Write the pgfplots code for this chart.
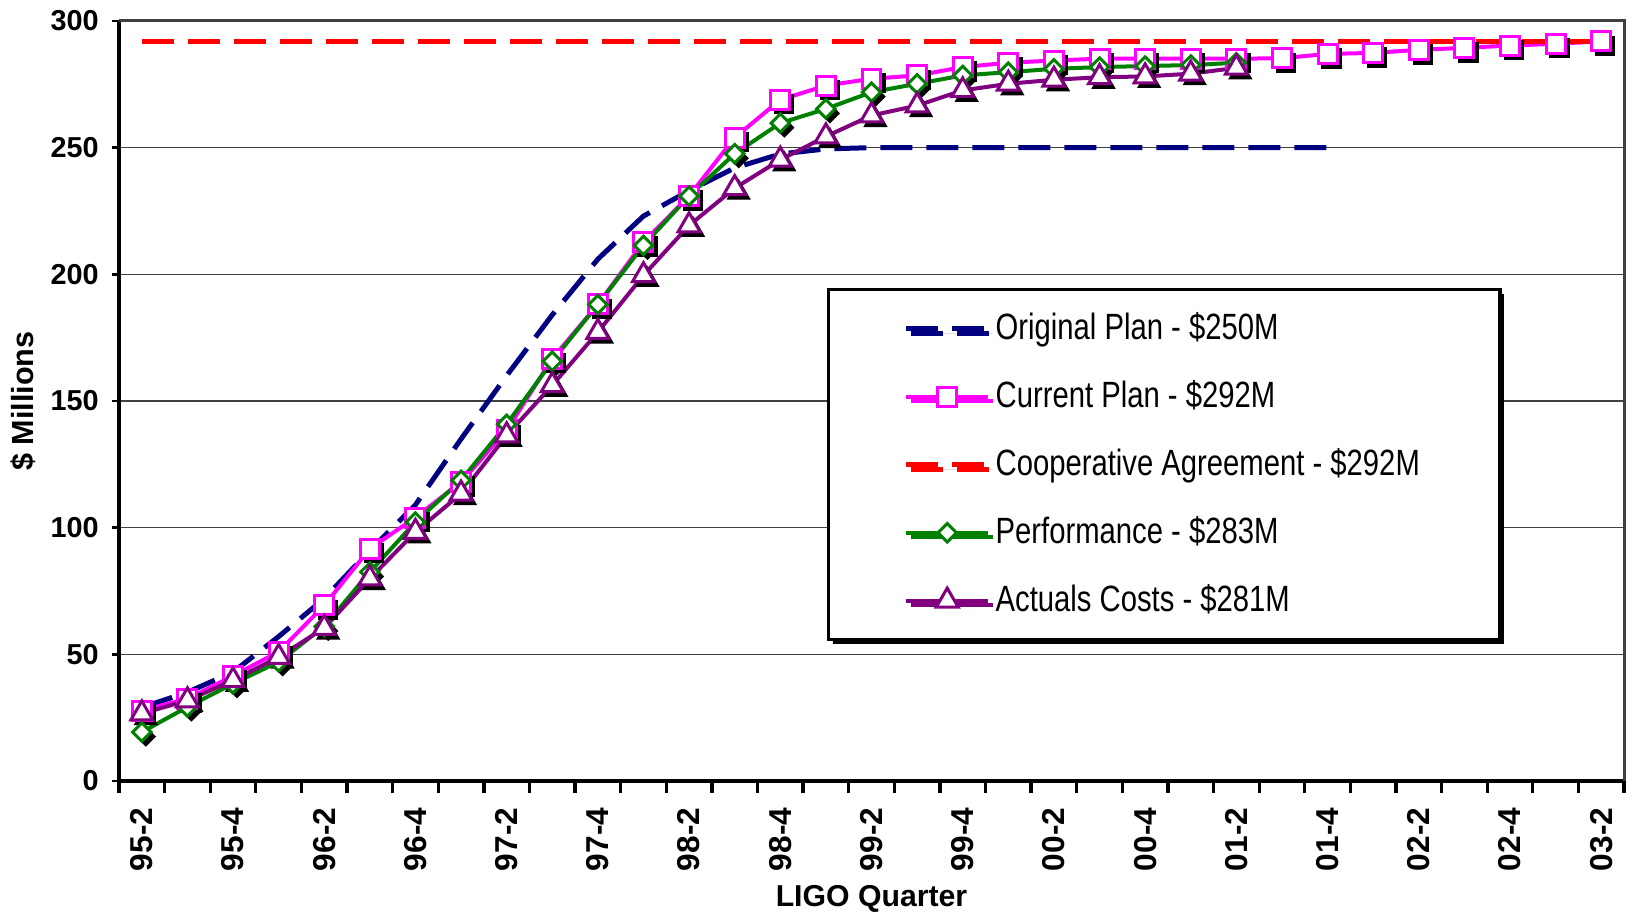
\documentclass[border=0pt]{standalone}
\usepackage{fontspec}
\setmainfont{Liberation Sans}
\newfontfamily\narrowfont[FakeStretch=0.8]{Liberation Sans}
\usepackage{pgfplots}
\pgfplotsset{compat=1.18}
\usetikzlibrary{shadows}
\definecolor{navyline}{HTML}{000080}
\definecolor{magline}{HTML}{FF00FF}
\definecolor{redline}{HTML}{FF0000}
\definecolor{greenline}{HTML}{008000}
\definecolor{purpline}{HTML}{800080}

% quarter index: 0 = 95-2 ... 32 = 03-2
\pgfplotstableread{
x y
0 29
1 35
2 43
3 57
4 72
5 91
6 109
7 135
8 160
9 184
10 206
11 223
12 233
13 242
14 247.5
15 249.5
16 250
17 250
18 250
19 250
20 250
21 250
22 250
23 250
24 250
25 250
26 250
}\original
\pgfplotstableread{
x y
0 27.8
1 32.5
2 41.5
3 51
4 69.3
5 91.7
6 104
7 118
8 138.4
9 166.7
10 188.1
11 212.7
12 230.9
13 253.9
14 268.9
15 274.5
16 277.2
17 278.5
18 281.8
19 283.5
20 284.4
21 285.1
22 285.1
23 285.1
24 285.1
25 285.3
26 287
27 287.4
28 288.6
29 289.4
30 290.3
31 291
32 292
}\current
\pgfplotstableread{
x y
0 292
32 292
}\coop
\pgfplotstableread{
x y
0 19.3
1 29.2
2 38.4
3 47
4 61
5 82.5
6 102.2
7 118.7
8 140.8
9 165.7
10 188.1
11 211.4
12 230.9
13 247.6
14 259.7
15 265.3
16 271.9
17 275.2
18 278.5
19 279.8
20 281.1
21 281.8
22 282.2
23 282.6
24 283.5
}\perf
\pgfplotstableread{
x y
0 26.6
1 31.8
2 39.7
3 48.9
4 60.4
5 79.9
6 98.3
7 113.4
8 136.4
9 156.2
10 177.2
11 199.6
12 219.3
13 234
14 245.2
15 254.4
16 262.7
17 266.6
18 272.6
19 275.2
20 276.8
21 277.8
22 278.1
23 279.2
24 281.5
}\actual

\begin{document}
\begin{tikzpicture}
\begin{axis}[
    name=ax,
    scale only axis,
    width=150.5mm,
    height=76mm,
    xmin=-0.5, xmax=32.5,
    ymin=0, ymax=300,
    axis lines*=left,
    axis line style={line width=0.45mm, -},
    tick align=outside,
    major tick length=0.7mm,
    minor tick length=1.2mm,
    xtick={0,2,...,32},
    xticklabels={95-2,95-4,96-2,96-4,97-2,97-4,98-2,98-4,99-2,99-4,00-2,00-4,01-2,01-4,02-2,02-4,03-2},
    minor xtick={-0.5,0.5,...,32.5},
    major x tick style={draw=none},
    minor x tick style={line width=0.33mm, black},
    ytick={0,50,...,300},
    ytick style={line width=0.25mm, black},
    ymajorgrids,
    grid style={line width=0.15mm, black!75},
    /pgf/number format/assume math mode=true,
    xticklabel style={rotate=90, anchor=east, inner sep=0pt,
        font=\bfseries\fontsize{9}{10}\selectfont},
    xticklabel shift=1.9mm,
    yticklabel style={anchor=east, inner sep=0pt,
        font=\bfseries\fontsize{8.2}{9}\selectfont},
    yticklabel shift=1.27mm,
    xlabel={LIGO Quarter},
    ylabel={\$ Millions},
    every axis x label/.style={at={([yshift=-11.8mm]rel axis cs:0.5,0)}, anchor=center,
        font=\bfseries\fontsize{8.6}{10}\selectfont},
    every axis y label/.style={at={([xshift=-9.6mm]rel axis cs:0,0.5)}, rotate=90, anchor=center,
        font=\bfseries\fontsize{8.7}{10}\selectfont},
    legend cell align=left,
    legend style={at={(rel axis cs:0.4704,0.6487)}, anchor=north west,
        draw=black, line width=0.35mm, fill=white,
        inner xsep=7.5mm, inner ysep=0.5mm, row sep=0pt,
        drop shadow={shadow xshift=0.45mm, shadow yshift=-0.45mm, fill=black, opacity=1},
        nodes={inner xsep=0.5mm, inner ysep=0pt, minimum height=6.8mm,
            font=\narrowfont\fontsize{10.4}{12}\selectfont}},
    legend image code/.code={
        \draw[mark repeat=2, mark phase=2, #1] plot coordinates {(0mm,0mm) (4.1mm,0mm) (8.2mm,0mm)};
    },
    clip=false,
]
% marker shadows
\addplot[forget plot, only marks, mark=square*, mark size=2.7pt,
    xshift=0.4mm, yshift=-0.45mm,
    mark options={black, fill=black}] table {\current};
\addplot[forget plot, only marks, mark=square*, mark size=1.85pt,
    xshift=0.4mm, yshift=-0.45mm,
    mark options={black, fill=black, rotate=45}] table {\perf};
\addplot[forget plot, only marks, mark=triangle*, mark size=3.6pt,
    xshift=0.4mm, yshift=-0.45mm,
    mark options={black, fill=black}] table {\actual};

\addplot[navyline, line width=0.5mm, dash pattern=on 3.2mm off 1.4mm] table {\original};
\addplot[magline, line width=0.4mm, mark=square*, mark size=2.7pt,
    mark options={solid, fill=white, line width=0.3mm}] table {\current};
\addplot[redline, line width=0.5mm, dash pattern=on 3.2mm off 1.4mm] table {\coop};
\addplot[greenline, line width=0.4mm, mark=square*, mark size=1.85pt,
    mark options={solid, fill=white, line width=0.3mm, rotate=45}] table {\perf};
\addplot[purpline, line width=0.4mm, mark=triangle*, mark size=3.6pt,
    mark options={solid, fill=white, line width=0.3mm}] table {\actual};

\legend{Original Plan - \$250M, Current Plan - \$292M, Cooperative Agreement - \$292M,
    Performance - \$283M, Actuals Costs - \$281M}
\end{axis}
\draw[black!75, line width=0.3mm] (ax.north west) -- (ax.north east) -- (ax.south east);
\pgfresetboundingbox
\path ([xshift=-11.9mm,yshift=-13.43mm]ax.south west) rectangle ([xshift=1.4mm,yshift=2.1mm]ax.north east);
\end{tikzpicture}
\end{document}
